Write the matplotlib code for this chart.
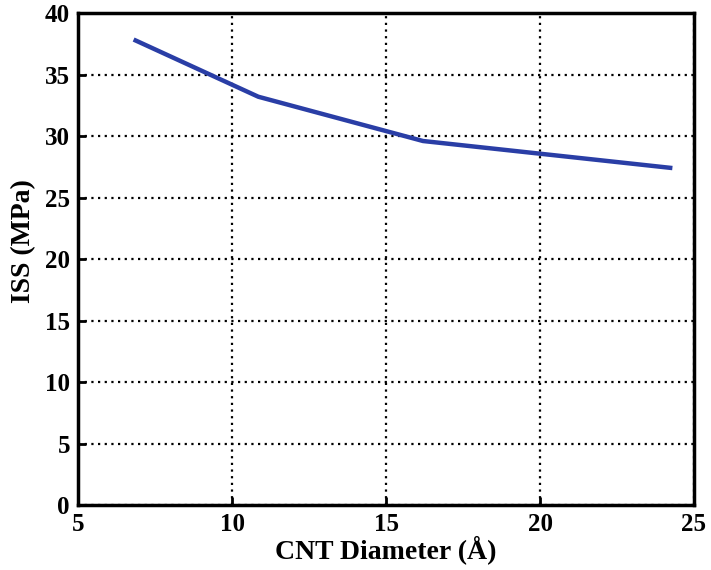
import matplotlib
matplotlib.use("Agg")
import matplotlib.pyplot as plt

# ISS versus nanotube diameter
diameter = [6.8, 10.85, 16.2, 24.3]
iss = [37.85, 33.2, 29.6, 27.4]

x_ticks = [5, 10, 15, 20, 25]
y_ticks = [0, 5, 10, 15, 20, 25, 30, 35, 40]

plt.rcParams["font.family"] = ["Liberation Serif", "DejaVu Serif"]
plt.rcParams["font.weight"] = "bold"

f = plt.figure(figsize=(7.11, 5.70), dpi=100)
ax = f.add_axes([0.110, 0.114, 0.866, 0.863])

ax.plot(diameter, iss, color="#2a3ea6", lw=3.2, solid_capstyle="butt")

ax.set_xlim(5, 25)
ax.set_ylim(0, 40)
ax.set_xticks(x_ticks)
ax.set_yticks(y_ticks)
ax.grid(True, color="black", ls=(0, (1, 2)), lw=1.6)
ax.tick_params(direction="in", length=6, width=2, labelsize=18)
ax.tick_params(axis="x", pad=6)
ax.tick_params(axis="y", pad=6)
for s in ax.spines.values():
    s.set_linewidth(2.5)
for lab in ax.get_xticklabels() + ax.get_yticklabels():
    lab.set_fontweight("bold")

ax.set_xlabel("CNT Diameter (Å)", fontsize=20, fontweight="bold", labelpad=-1)
ax.set_ylabel("ISS (MPa)", fontsize=20, fontweight="bold")
ax.yaxis.set_label_coords(-0.069, 0.537)

f.savefig("out.png", dpi=100)
